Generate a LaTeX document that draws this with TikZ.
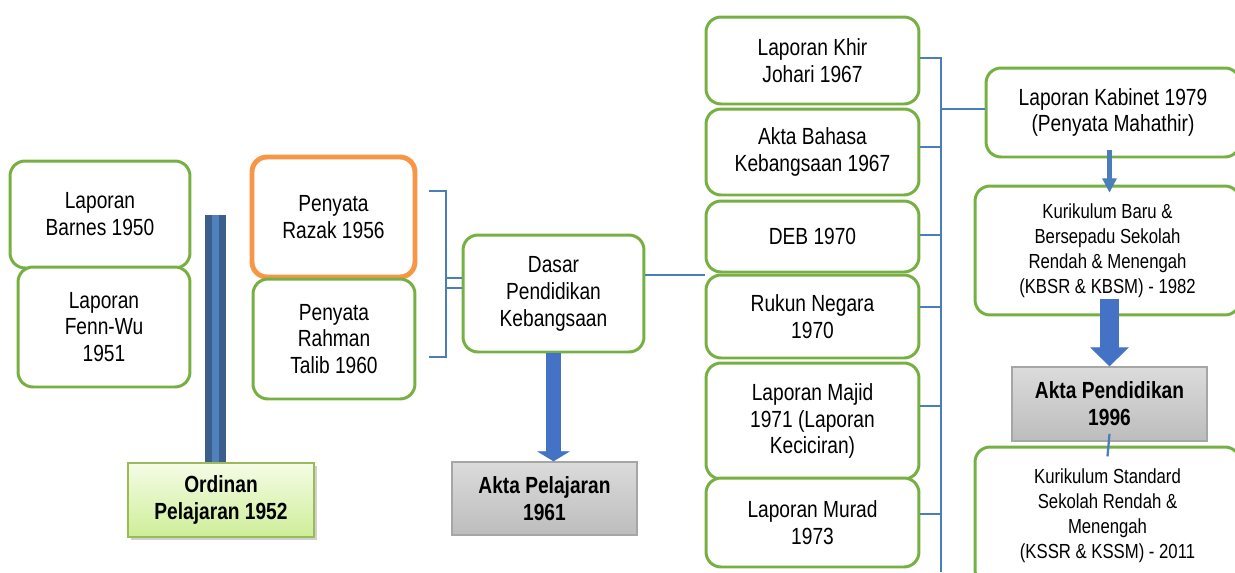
\documentclass[tikz,border=0pt]{standalone}
\usepackage{fontspec}
\setmainfont{Liberation Sans}[FakeStretch=0.82]
\usetikzlibrary{arrows.meta,shadows}

\definecolor{boxgreen}{HTML}{76B043}
\definecolor{boxorange}{HTML}{F79646}
\definecolor{linkblue}{HTML}{4A7EBB}
\definecolor{arrowblue}{HTML}{4472C4}
\definecolor{bardark}{HTML}{3B5E8C}
\definecolor{barlight}{HTML}{4F81BD}
\definecolor{lawtop}{RGB}{245,252,230}
\definecolor{lawbottom}{RGB}{206,238,152}
\definecolor{lawedge}{HTML}{9BBB59}

\begin{document}
\begin{tikzpicture}[x=0.02cm,y=-0.02cm,
						every node/.style={align=center,inner sep=0pt,
						font=\fontsize{13.3pt}{15.3pt}\selectfont},
						report/.style={draw=boxgreen,line width=1.7pt,
						rounded corners=0.3cm,fill=white},
						small/.style={font=\fontsize{11.6pt}{14.2pt}\selectfont},
						act/.style={draw=black!35,line width=0.8pt,
						top color=black!14,bottom color=black!26,
						font=\fontsize{13.3pt}{15.3pt}\selectfont\bfseries},
						ordinance/.style={draw=lawedge,line width=1pt,
						top color=lawtop,bottom color=lawbottom,
						drop shadow={shadow xshift=1.5pt,shadow yshift=-1.5pt,
						opacity=0.3,fill=black!60},
						font=\fontsize{13.3pt}{15.3pt}\selectfont\bfseries},
						link/.style={linkblue,line width=1.3pt},
						pillar/.style={draw=bardark,double=barlight,
						double distance=4.5pt,line width=3.7pt},
						fatarrow/.style={arrowblue,line width=8.5pt,
						-{Triangle[width=18.7pt,length=5.7pt,line width=0.5pt]}},
						thinarrow/.style={linkblue,line width=2.3pt,
						-{Triangle[width=8.3pt,length=8pt,line width=0.5pt]}}]

		\useasboundingbox (0,0) rectangle (1235,572);
		\clip (0,0) rectangle (1235,572);

		% first reports and the ordinance
		\node [report,minimum width=3.6cm,minimum height=2.14cm] (l1) at (100,214.5) {Laporan\\Barnes 1950};
		\node [report,minimum width=3.44cm,minimum height=2.4cm] (l2) at (104,327) {Laporan\\Fenn-Wu\\1951};
		\node [ordinance,minimum width=3.72cm,minimum height=1.48cm] (o) at (221,500) {Ordinan\\Pelajaran 1952};

		\node [report,draw=boxorange,line width=2.8pt,minimum width=3.26cm,minimum height=2.4cm] (p1) at (333.5,217) {Penyata\\Razak 1956};
		\node [report,minimum width=3.24cm,minimum height=2.4cm] (p2) at (334,339) {Penyata\\Rahman\\Talib 1960};

		\node [report,minimum width=3.62cm,minimum height=2.34cm] (d) at (553.5,293.5) {Dasar\\Pendidikan\\Kebangsaan};
		\node [act,minimum width=3.7cm,minimum height=1.46cm] (a1) at (544.5,498.5) {Akta Pelajaran\\1961};

		% reports after 1961
		\node [report,minimum width=4.26cm,minimum height=1.74cm] (c0) at (812.5,60.5) {Laporan Khir\\Johari 1967};
		\node [report,minimum width=4.26cm,minimum height=1.72cm] (c1) at (812.5,152) {Akta Bahasa\\Kebangsaan 1967};
		\node [report,minimum width=4.26cm,minimum height=1.42cm] (c2) at (812.5,236.5) {DEB 1970};
		\node [report,minimum width=4.26cm,minimum height=1.66cm] (c3) at (812.5,316.5) {Rukun Negara\\1970};
		\node [report,minimum width=4.26cm,minimum height=2.32cm] (c4) at (812.5,421) {Laporan Majid\\1971 (Laporan\\Keciciran)};
		\node [report,minimum width=4.26cm,minimum height=1.78cm] (c5) at (812.5,522.5) {Laporan Murad\\1973};

		\node [report,minimum width=5.08cm,minimum height=1.78cm] (k) at (1113,112.5) {Laporan Kabinet 1979\\(Penyata Mahathir)};
		\node [report,small,minimum width=5.3cm,minimum height=2.58cm] (k1) at (1107.5,250.5) {Kurikulum Baru \&\\Bersepadu Sekolah\\Rendah \& Menengah\\(KBSR \& KBSM) - 1982};
		\node [act,minimum width=3.9cm,minimum height=1.48cm] (a2) at (1109.5,404) {Akta Pendidikan\\1996};
		\node [report,small,minimum width=5.3cm,minimum height=2.76cm] (k2) at (1107.5,516) {Kurikulum Standard\\Sekolah Rendah \&\\Menengah\\(KSSR \& KSSM) - 2011};

		\coordinate (bar) at (215.5,215);
		\coordinate (bus) at (941,572);

		\draw [pillar] (bar) -- (bar |- o.north);

		\draw [link] (429,191) -| (446,357) -- (429,357);
		\draw [link] (446,278) -- (d.west |- 0,278);
		\draw [link] (446,288) -- (d.west |- 0,288);
		\draw [fatarrow] (d.south) -- (d.south |- a1.north);
		\draw [link] (d.east |- 0,275) -- (c3.west |- 0,275);

		\draw [link] (c0.east |- 0,58) -- (bus |- 0,58) -- (bus);
		\draw [link] (c1.east |- 0,147) -- (bus |- 0,147);
		\draw [link] (c2.east |- 0,235) -- (bus |- 0,235);
		\draw [link] (c3.east |- 0,307) -- (bus |- 0,307);
		\draw [link] (c4.east |- 0,406) -- (bus |- 0,406);
		\draw [link] (c5.east |- 0,514) -- (bus |- 0,514);
		\draw [link] (bus |- 0,109) -- (k.west |- 0,109);

		\draw [thinarrow] ([yshift=5pt]k.south -| a2.north) -- ([yshift=-4.5pt]k1.north -| a2.north);
		\draw [fatarrow,line width=10.8pt,-{Triangle[width=22pt,length=10.8pt,line width=0.5pt]}]
			([yshift=10.2pt]k1.south -| a2.north) -- (a2.north);
		\draw [link] ([yshift=4.5pt]a2.south) -- ([yshift=-6.2pt]k2.north);

	\end{tikzpicture}
\end{document}
